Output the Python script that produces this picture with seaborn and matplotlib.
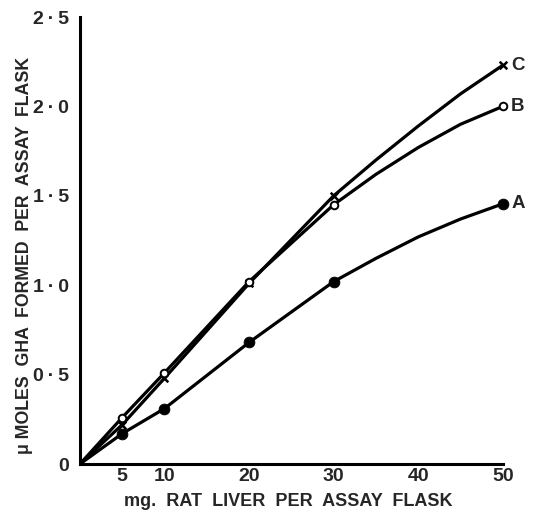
import matplotlib
matplotlib.use("Agg")
import matplotlib.pyplot as plt
import seaborn as sns
import pandas as pd

# marker points (mg liver vs umoles GHA)
liver_mg = [5, 10, 20, 30, 50]
curve_a = [0.17, 0.31, 0.68, 1.02, 1.455]
curve_b = [0.26, 0.51, 1.02, 1.45, 2.00]
curve_c = [0.22, 0.48, 1.01, 1.50, 2.23]

# drawn lines (start at origin, bend between 30 and 50)
line_x = [0, 5, 10, 20, 30, 35, 40, 45, 50]
line_a = [0, 0.17, 0.31, 0.68, 1.02, 1.15, 1.27, 1.37, 1.455]
line_b = [0, 0.26, 0.51, 1.02, 1.45, 1.62, 1.77, 1.90, 2.00]
line_c = [0, 0.22, 0.48, 1.01, 1.50, 1.70, 1.89, 2.07, 2.23]

x_ticks = [5, 10, 20, 30, 40, 50]
y_ticks = [0, 0.5, 1.0, 1.5, 2.0, 2.5]
y_labels = ["0", "0\u2009\u00b7\u20095", "1\u2009\u00b7\u20090", "1\u2009\u00b7\u20095",
            "2\u2009\u00b7\u20090", "2\u2009\u00b7\u20095"]

sns.set_style("white")
plt.rcParams["font.family"] = ["Liberation Sans", "DejaVu Sans"]
plt.rcParams["font.weight"] = "bold"

fig = plt.figure(figsize=(5.4, 5.24), dpi=100)
ax = fig.add_axes([0.148, 0.1145, 0.783, 0.853])

n = len(line_x)
lines = pd.DataFrame({"x": line_x * 3,
                      "y": line_a + line_b + line_c,
                      "curve": ["A"] * n + ["B"] * n + ["C"] * n})
sns.lineplot(data=lines, x="x", y="y", units="curve", estimator=None,
             color="black", linewidth=2.3, ax=ax, legend=False)

sns.scatterplot(x=liver_mg, y=curve_c, marker="x", color="black", s=30,
                linewidth=1.8, ax=ax, zorder=3, clip_on=False)
sns.scatterplot(x=liver_mg, y=curve_b, marker="o", facecolor="white",
                edgecolor="black", s=30, linewidth=1.4, ax=ax, zorder=4,
                clip_on=False)
sns.scatterplot(x=liver_mg, y=curve_a, marker="o", color="black", s=60,
                edgecolor="black", ax=ax, zorder=4, clip_on=False)

for name, vals in [("A", curve_a), ("B", curve_b), ("C", curve_c)]:
    ax.text(51.0, vals[-1], name, fontsize=13.5, fontweight="bold",
            ha="left", va="center", clip_on=False)

ax.set_xlim(0, 50)
ax.set_ylim(0, 2.5)
ax.set_xticks(x_ticks)
ax.set_xticklabels([str(t) for t in x_ticks])
ax.set_yticks(y_ticks)
ax.set_yticklabels(y_labels)
ax.tick_params(axis="x", direction="in", length=6, width=2, pad=3, labelsize=14)
ax.tick_params(axis="y", direction="out", length=6, width=2, pad=2, labelsize=14)
for lab in ax.get_xticklabels() + ax.get_yticklabels():
    lab.set_fontweight("bold")

for side in ["top", "right"]:
    ax.spines[side].set_visible(False)
for side in ["left", "bottom"]:
    ax.spines[side].set_linewidth(2.2)
    ax.spines[side].set_color("black")

ax.set_xlabel("mg.  RAT  LIVER  PER  ASSAY  FLASK", fontsize=13,
              fontweight="bold")
ax.set_ylabel("\u03bc MOLES  GHA  FORMED  PER  ASSAY  FLASK", fontsize=12.8,
              fontweight="bold")
ax.xaxis.set_label_coords(0.493, -0.064)
ax.yaxis.set_label_coords(-0.111, 0.467)

fig.savefig("out.png", dpi=100)
